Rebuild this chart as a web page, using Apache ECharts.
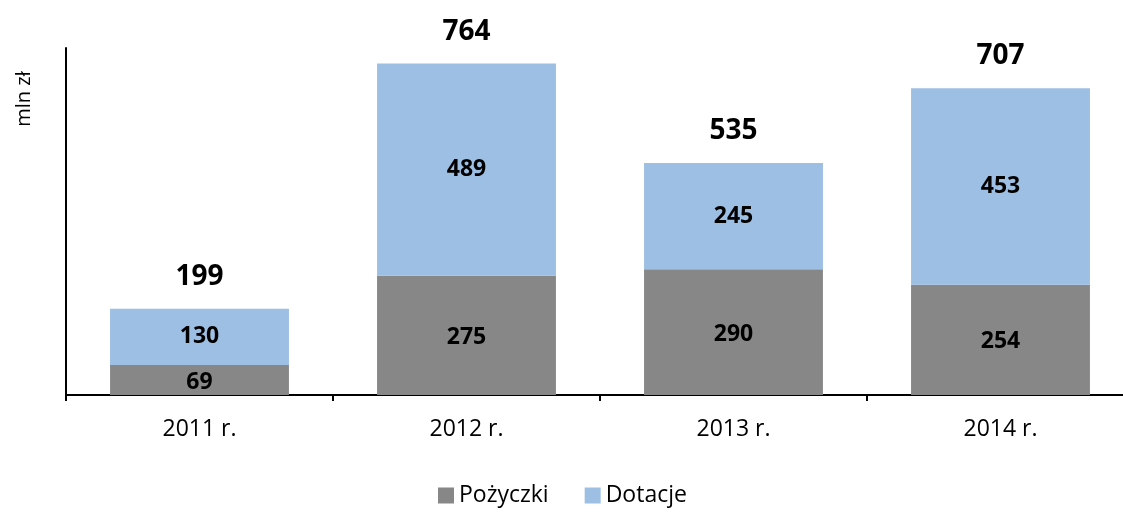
<!DOCTYPE html>
<html>
<head>
<meta charset="utf-8">
<script src="https://cdn.jsdelivr.net/npm/echarts@6/dist/echarts.min.js"></script>
<style>
  html, body { margin: 0; padding: 0; background: #fff; overflow: hidden; }
  #chart { width: 1134px; height: 512px; }
</style>
</head>
<body>
<div id="chart"></div>
<script>
const years = ['2011 r.', '2012 r.', '2013 r.', '2014 r.'];
const pozyczki = [69, 275, 290, 254];
const dotacje = [130, 489, 245, 453];
const sumy = pozyczki.map((v, i) => v + dotacje[i]);

const font = 'Open Sans';
// chart div is a bit wider than the window: the x axis runs past the right edge
const chart = echarts.init(document.getElementById('chart'));
chart.setOption({
  animation: false,
  textStyle: { fontFamily: font },
  grid: { left: 66, top: 48, right: 0, bottom: 117 },
  legend: {
    data: ['Pożyczki', 'Dotacje'],
    bottom: 0,
    left: 433,
    icon: 'rect',
    itemWidth: 16,
    itemHeight: 16,
    itemGap: 36,
    textStyle: { fontSize: 23, color: '#000', fontFamily: font }
  },
  xAxis: {
    type: 'category',
    data: years,
    axisLine: { lineStyle: { color: '#000', width: 2 } },
    axisTick: { show: true, length: 6, lineStyle: { color: '#000', width: 2 } },
    axisLabel: { fontSize: 23, color: '#000', margin: 23 }
  },
  yAxis: {
    type: 'value',
    min: 0,
    max: 800,
    axisLine: { show: true, lineStyle: { color: '#000', width: 2 } },
    axisTick: { show: false },
    axisLabel: { show: false },
    splitLine: { show: false }
  },
  graphic: [{
    type: 'text',
    x: 24,
    y: 99,
    rotation: Math.PI / 2,
    style: {
      text: 'mln zł', fontSize: 20, fill: '#000', fontFamily: font,
      textAlign: 'center', textVerticalAlign: 'middle'
    }
  }],
  series: [
    {
      name: 'Pożyczki',
      type: 'bar',
      stack: 'a',
      barWidth: '67%',
      data: pozyczki,
      itemStyle: { color: '#878787' },
      label: { show: true, position: 'inside', fontSize: 23, fontWeight: 'bold', color: '#000', offset: [0, 2] }
    },
    {
      name: 'Dotacje',
      type: 'bar',
      stack: 'a',
      data: dotacje,
      itemStyle: { color: '#9dbfe4' },
      label: { show: true, position: 'inside', fontSize: 23, fontWeight: 'bold', color: '#000' }
    },
    {
      name: 'Suma',
      type: 'bar',
      barGap: '-100%',
      barWidth: '67%',
      data: sumy,
      z: 0,
      itemStyle: { color: 'rgba(0,0,0,0)' },
      label: { show: true, position: 'top', distance: 18, fontSize: 28, fontWeight: 'bold', color: '#000' }
    }
  ]
});
</script>
</body>
</html>
